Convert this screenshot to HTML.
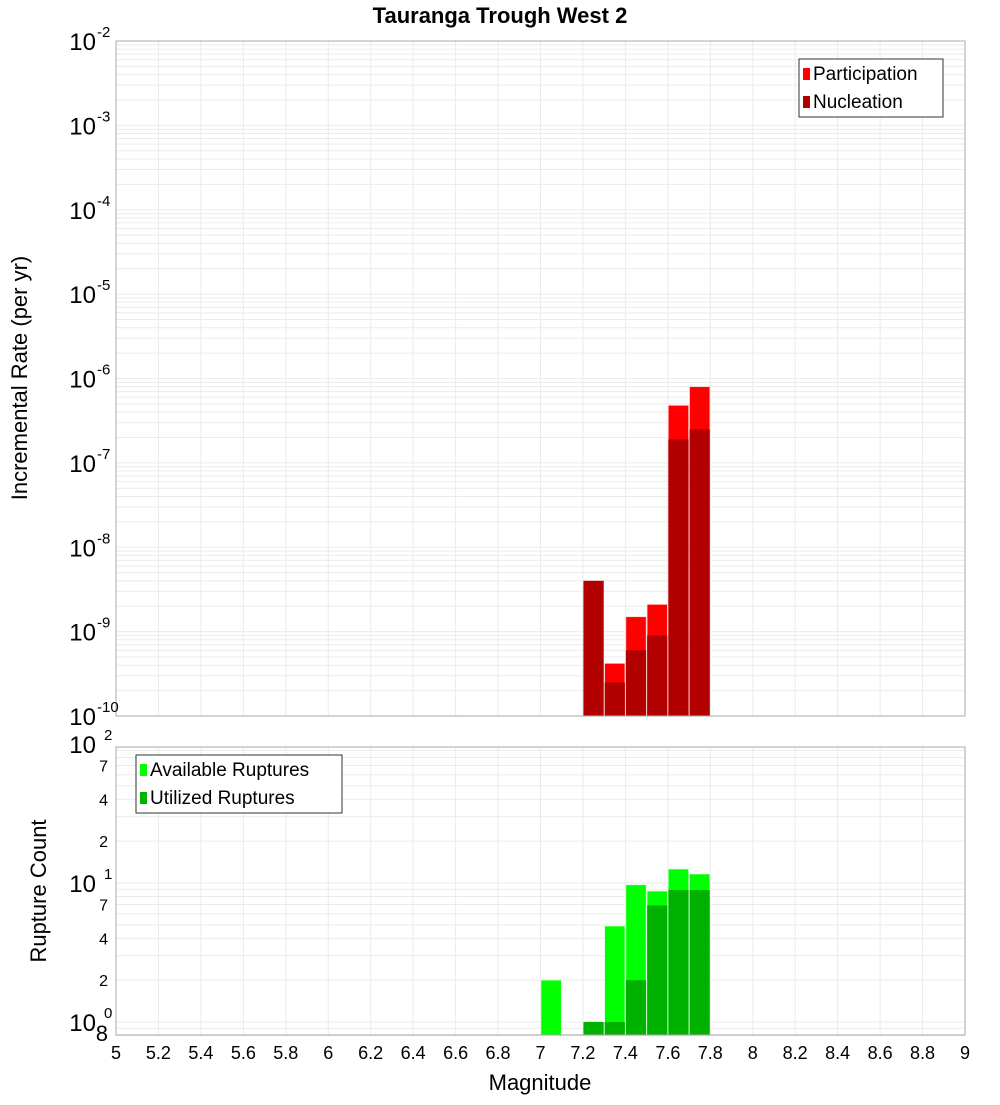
<!DOCTYPE html>
<html><head><meta charset="utf-8"><style>
body{margin:0;background:#fff;}
svg text{font-family:"Liberation Sans","DejaVu Sans",sans-serif;}
</style></head><body>
<svg id="c" width="1000" height="1100" xmlns="http://www.w3.org/2000/svg">
<text x="500" y="23" text-anchor="middle" font-size="22" font-weight="bold">Tauranga Trough West 2</text>
<g id="topg"></g><g id="botg"></g>
<text transform="translate(27,378) rotate(-90)" text-anchor="middle" font-size="22">Incremental Rate (per yr)</text>
<text transform="translate(46,891) rotate(-90)" text-anchor="middle" font-size="22">Rupture Count</text>
<text x="540" y="1090" text-anchor="middle" font-size="22">Magnitude</text>
</svg>
<script>
const mags=[7.05,7.25,7.35,7.45,7.55,7.65,7.75];
const participation=[0,4e-9,4.2e-10,1.5e-9,2.1e-9,4.8e-7,8e-7];
const nucleation=[0,4e-9,2.5e-10,6e-10,9e-10,1.9e-7,2.5e-7];
const available=[2,1,4.9,9.7,8.75,12.6,11.6];
const utilized=[0,1,1,2,6.9,8.9,8.9];
const xTicks=[5,5.2,5.4,5.6,5.8,6,6.2,6.4,6.6,6.8,7,7.2,7.4,7.6,7.8,8,8.2,8.4,8.6,8.8,9];
const topExps=[-2,-3,-4,-5,-6,-7,-8,-9,-10];
const botMinor=[[7,70],[4,40],[2,20],[7,7],[4,4],[2,2]];

const NS="http://www.w3.org/2000/svg";
const X0=116,X1=965;
const xs=m=>X0+(m-5)/4*(X1-X0);
const T0=41,T1=716;
const yt=v=>T0+(-2-Math.log10(v))*(T1-T0)/8;
const B0=747,B1=1035;
const yb=v=>1022-Math.log10(v)*139;
function el(p,t,a,txt){const e=document.createElementNS(NS,t);for(const k in a)e.setAttribute(k,a[k]);if(txt!==undefined)e.textContent=txt;p.appendChild(e);return e;}
const gTop=document.getElementById('topg'),gBot=document.getElementById('botg');
function grids(g,y0,y1,yfn,lo,hi){
 for(let d=lo;d<hi;d++)for(let k=1;k<10;k++){const v=k*Math.pow(10,d);const y=yfn(v);if(y<y0-0.5||y>y1+0.5)continue;
  const l=el(g,'line',{x1:X0,x2:X1,y1:y,y2:y,stroke:'#ebebeb','stroke-width':1});
  
  }
 xTicks.forEach(t=>{const l=el(g,'line',{x1:xs(t),x2:xs(t),y1:y0,y2:y1,stroke:'#ebebeb','stroke-width':1});
  
  });
}
grids(gTop,T0,T1,yt,-10,-1);
grids(gBot,B0,B1,yb,-1,2);
const w=(X1-X0)/40;
mags.forEach((m,i)=>{
 if(participation[i]>0){const r=el(gTop,'rect',{x:xs(m)-w/2+0.5,y:yt(participation[i]),width:w-1,height:T1-yt(participation[i]),fill:'#ff0000',stroke:'#ffcccc','stroke-width':0.6});
  
  }
 if(nucleation[i]>0){const r=el(gTop,'rect',{x:xs(m)-w/2+0.5,y:yt(nucleation[i]),width:w-1,height:T1-yt(nucleation[i]),fill:'#b20000'});
  
  }
 if(available[i]>0){const r=el(gBot,'rect',{x:xs(m)-w/2+0.5,y:yb(available[i]),width:w-1,height:B1-yb(available[i]),fill:'#00ff00',stroke:'#ccffcc','stroke-width':0.6});
  
  }
 if(utilized[i]>0){const r=el(gBot,'rect',{x:xs(m)-w/2+0.5,y:yb(utilized[i]),width:w-1,height:B1-yb(utilized[i]),fill:'#00b200'});
  
  }
});
const f1=el(gTop,'rect',{x:X0,y:T0,width:X1-X0,height:T1-T0,fill:'none',stroke:'#aaa'});


const f2=el(gBot,'rect',{x:X0,y:B0,width:X1-X0,height:B1-B0,fill:'none',stroke:'#aaa'});


topExps.forEach(e=>{const y=yt(Math.pow(10,e));
 const t=el(gTop,'text',{x:96,y:y+9,'text-anchor':'end','font-size':24},'10');
 
 
 const s=el(gTop,'text',{x:97,y:y-4,'font-size':15},String(e));
 
 });
[[2,'10','2'],[1,'10','1'],[0,'10','0']].forEach(([e,b,s])=>{const y=yb(Math.pow(10,e));
 const t=el(gBot,'text',{x:96,y:y+9,'text-anchor':'end','font-size':24},b);
 
 
 const u=el(gBot,'text',{x:104,y:y-4,'font-size':15},s);
 
 });
botMinor.forEach(([lab,v])=>{const t=el(gBot,'text',{x:108,y:yb(v)+6,'text-anchor':'end','font-size':16},String(lab));
 
 });
const e8=el(gBot,'text',{x:108,y:1041,'text-anchor':'end','font-size':22},'8');


xTicks.forEach(t=>{const e=el(gBot,'text',{x:xs(t),y:1059,'text-anchor':'middle','font-size':18},String(t));
 
 });
function legend(g,x,y,wd,items){const b=el(g,'rect',{x:x,y:y,width:wd,height:58,fill:'#fff',stroke:'#333'});
 
 
 items.forEach(([c,l],i)=>{const r=el(g,'rect',{x:x+4,y:y+9+i*28,width:7,height:12,fill:c});
  
  
  const t=el(g,'text',{x:x+14,y:y+21+i*28,'font-size':19},l);
  
  });}
legend(gTop,799,59,144,[['#ff0000','Participation'],['#b20000','Nucleation']]);
legend(gBot,136,755,206,[['#00ff00','Available Ruptures'],['#00b200','Utilized Ruptures']]);
</script>
</body></html>
